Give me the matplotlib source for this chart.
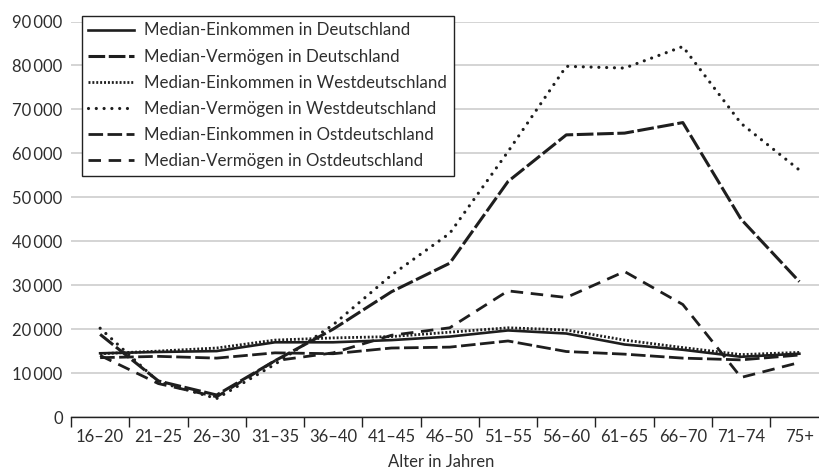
import matplotlib
matplotlib.use("Agg")
import matplotlib.pyplot as plt
from matplotlib.ticker import FuncFormatter, FixedLocator

plt.rcParams['font.family'] = ['Lato', 'DejaVu Sans']
plt.rcParams['lines.scale_dashes'] = False

categories = ['16–20', '21–25', '26–30', '31–35', '36–40', '41–45', '46–50',
              '51–55', '56–60', '61–65', '66–70', '71–74', '75+']

eink_de = [14500, 14800, 15000, 17000, 17000, 17500, 18300, 19700, 19000, 16500, 15300, 13700, 14400]
verm_de = [18800, 8200, 5000, 12800, 20000, 28500, 35000, 53600, 64200, 64600, 67000, 45000, 30800]
eink_west = [14400, 15000, 15700, 17500, 18000, 18300, 19300, 20300, 19800, 17500, 15800, 14200, 14700]
verm_west = [20200, 8000, 4200, 12000, 21000, 32300, 41800, 60400, 79800, 79400, 84300, 66800, 56200]
eink_ost = [13500, 13800, 13400, 14600, 14400, 15700, 15900, 17300, 14900, 14300, 13400, 13000, 14100]
verm_ost = [14000, 7600, 4600, 12800, 14600, 18600, 20300, 28700, 27200, 33100, 25600, 9000, 12400]

labels = ['Median-Einkommen in Deutschland', 'Median-Vermögen in Deutschland',
          'Median-Einkommen in Westdeutschland', 'Median-Vermögen in Westdeutschland',
          'Median-Einkommen in Ostdeutschland', 'Median-Vermögen in Ostdeutschland']

W, H = 820, 471
fig = plt.figure(figsize=(W / 100, H / 100), dpi=100)
ax = fig.add_axes([71 / W, (H - 417) / H, 757.5 / W, (417 - 21.5) / H])

x = list(range(len(categories)))
lc = '#1e1e1e'
ax.plot(x, eink_de, color=lc, lw=1.9, ls='-', label=labels[0])
ax.plot(x, verm_de, color=lc, lw=2.2, ls=(0, (12, 2.6)), label=labels[1])
ax.plot(x, eink_west, color=lc, lw=2.0, ls=(0, (1.4, 1.4)), label=labels[2])
ax.plot(x, verm_west, color=lc, lw=2.3, ls=(0, (0.01, 5.6)), label=labels[3],
        dash_capstyle='round')
ax.plot(x, eink_ost, color=lc, lw=2.0, ls=(0, (10.5, 3.2)), label=labels[4])
ax.plot(x, verm_ost, color=lc, lw=2.0, ls=(0, (9, 5.5)), label=labels[5])

ax.set_xlim(-0.5, 12.5)
ax.set_ylim(0, 90000)

ax.set_yticks(range(0, 90001, 10000))
ax.yaxis.set_major_formatter(FuncFormatter(
    lambda v, p: '0' if v == 0 else f'{int(v):,}'.replace(',', '\u2009')))
ax.set_xticks(x)
ax.set_xticklabels(categories)
ax.xaxis.set_minor_locator(FixedLocator([i - 0.5 for i in range(len(categories) + 1)]))

txt = '#2e2e2e'
ax.tick_params(axis='y', length=0, pad=6, labelsize=12, labelcolor=txt)
ax.tick_params(axis='x', which='major', length=0, pad=9, labelsize=12, labelcolor=txt)
ax.tick_params(axis='x', which='minor', length=7, width=1.0, color='#222222', direction='out')

ax.grid(axis='y', color='#d4d4d4', lw=1.4)
ax.set_axisbelow(True)
for s in ['top', 'right', 'left']:
    ax.spines[s].set_visible(False)
ax.spines['bottom'].set_color('#222222')
ax.spines['bottom'].set_linewidth(1.0)

ax.set_xlabel('Alter in Jahren', fontsize=12, color=txt)
ax.xaxis.set_label_coords((441 - 71) / 757.5, -0.094)

leg = ax.legend(loc='upper left', bbox_to_anchor=(82 / W, 1 - 16 / H),
                bbox_transform=fig.transFigure, borderaxespad=0,
                fontsize=12.2, handlelength=2.7, handletextpad=0.6,
                labelspacing=0.6, borderpad=0.38, fancybox=False,
                framealpha=1, edgecolor='#222222', labelcolor=txt)
leg.get_frame().set_linewidth(1.0)

fig.savefig('out.png', dpi=100)
